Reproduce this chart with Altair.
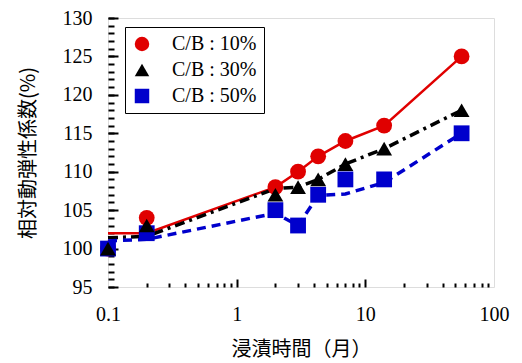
import altair as alt
import pandas as pd

# ---- data ----
months = [0.1, 0.2, 2, 3, 4.3, 7, 14, 56]
series_names = ["C/B : 10%", "C/B : 30%", "C/B : 50%"]
red_pts = [100, 104, 108, 110, 112, 114, 116, 125]
black_pts = [100, 103, 107, 108, 109, 111, 113, 118]
blue_pts = [100, 102, 105, 103, 107, 109, 109, 115]
red_line = [102, 102, 108, 110, 112, 114, 116, 125]
black_line = [101.4, 101.6, 107.8, 108, 109, 111, 113, 118]
blue_line = [101, 101.2, 104.6, 103, 106.9, 107.1, 108.6, 115]
colors = ["#e00000", "#000000", "#0000cc"]
shapes = ["circle", "triangle-up", "square"]

x_major = [0.1, 1, 10, 100]
x_major_ticks = [1, 10]
x_minor_ticks = [0.2, 0.3, 0.4, 0.5, 0.6, 0.7, 0.8, 0.9,
                 2, 3, 4, 5, 6, 7, 8, 9,
                 20, 30, 40, 50, 60, 70, 80, 90]
y_major = [95, 100, 105, 110, 115, 120, 125, 130]
y_minor = list(range(95, 131))

# ---- tables ----
pts = pd.concat([
    pd.DataFrame({"month": months, "value": red_pts, "series": series_names[0]}),
    pd.DataFrame({"month": months, "value": blue_pts, "series": series_names[2]}),
    pd.DataFrame({"month": months, "value": black_pts, "series": series_names[1]}),
], ignore_index=True)
red_df = pd.DataFrame({"month": months, "value": red_line})
black_df = pd.DataFrame({"month": months, "value": black_line})
blue_df = pd.DataFrame({"month": months, "value": blue_line})

xscale = alt.Scale(type="log", domain=[0.1, 100], nice=False)
yscale = alt.Scale(domain=[95, 130], nice=False, zero=False)

serif = "Liberation Serif, Times New Roman, Times, serif"
cjk = "Noto Sans CJK JP"

x_label_axis = alt.Axis(orient="bottom", values=x_major, format="~g", ticks=False,
                        domain=False, grid=False, labelFont=serif, labelFontSize=20,
                        labelColor="black", labelPadding=17, labelFlush=False,
                        labelOverlap=False, title="浸漬時間（月）", titleFont=cjk,
                        titleFontSize=20, titleFontWeight="normal", titleColor="black",
                        titlePadding=15)
y_label_axis = alt.Axis(orient="left", values=y_major, ticks=False, domain=False,
                        grid=False, labelFont=serif, labelFontSize=20,
                        labelColor="black", labelPadding=16, labelFlush=False,
                        labelOverlap=False, title="相対動弾性係数(%)", titleFont=cjk,
                        titleFontSize=20, titleFontWeight="normal", titleColor="black",
                        titlePadding=24)
x_major_axis = alt.Axis(orient="bottom", values=x_major_ticks, labels=False, domain=False,
                        grid=False, ticks=True, tickSize=8, offset=-8, tickWidth=2,
                        tickColor="black", title=None)
x_minor_axis = alt.Axis(orient="bottom", values=x_minor_ticks, labels=False, domain=False,
                        grid=False, ticks=True, tickSize=4, offset=-4, tickWidth=2,
                        tickColor="black", title=None)
y_major_axis = alt.Axis(orient="left", values=y_major, labels=False, domain=False,
                        grid=False, ticks=True, tickSize=10, offset=-10, tickWidth=2,
                        tickColor="black", title=None)
y_minor_axis = alt.Axis(orient="left", values=y_minor, labels=False, domain=False,
                        grid=False, ticks=True, tickSize=6, offset=-6, tickWidth=2,
                        tickColor="black", title=None)

red_l = alt.Chart(red_df).mark_line(color=colors[0], strokeWidth=2.5).encode(
    x=alt.X("month:Q", scale=xscale, axis=x_label_axis),
    y=alt.Y("value:Q", scale=yscale, axis=y_label_axis),
)
black_l = alt.Chart(black_df).mark_line(color=colors[1], strokeWidth=3.5,
                                        strokeDash=[10, 5, 3, 5]).encode(
    x=alt.X("month:Q", scale=xscale, axis=x_major_axis),
    y=alt.Y("value:Q", scale=yscale, axis=y_major_axis),
)
blue_l = alt.Chart(blue_df).mark_line(color=colors[2], strokeWidth=3.5,
                                      strokeDash=[9, 6]).encode(
    x=alt.X("month:Q", scale=xscale, axis=x_minor_axis),
    y=alt.Y("value:Q", scale=yscale, axis=y_minor_axis),
)

legend = alt.Legend(orient="none", legendX=17, legendY=9, title=None,
                    labelFont=serif, labelFontSize=20, labelColor="black",
                    symbolSize=210, symbolStrokeWidth=0, strokeColor="black",
                    padding=7, rowPadding=6, labelOffset=20, fillColor="white")

points = alt.Chart(pts).mark_point(filled=True, opacity=1, size=250, strokeWidth=0).encode(
    x=alt.X("month:Q", scale=xscale, axis=None),
    y=alt.Y("value:Q", scale=yscale, axis=None),
    color=alt.Color("series:N", scale=alt.Scale(domain=series_names, range=colors),
                    legend=legend),
    shape=alt.Shape("series:N", scale=alt.Scale(domain=series_names, range=shapes),
                    legend=legend),
)

chart = alt.layer(red_l, black_l, blue_l, points).resolve_axis(
    x="independent", y="independent"
).properties(
    width=386, height=269,
    autosize=alt.AutoSizeParams(type="none"),
    padding={"left": 100, "top": 10, "right": 20, "bottom": 76},
).configure_view(
    stroke="black", strokeWidth=2
).configure_legend(
    strokeWidth=2
).configure(background="white")

chart.save("out.html", embed_options={"renderer": "svg", "actions": False})
